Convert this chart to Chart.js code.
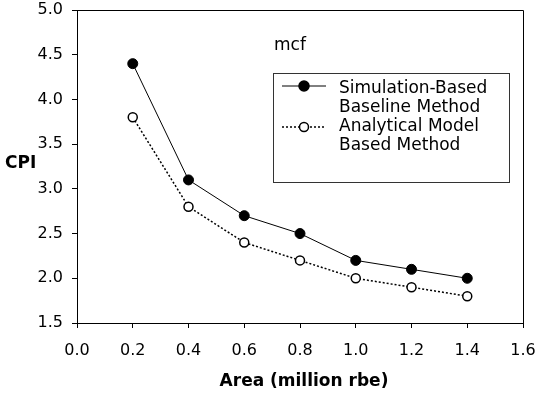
<!DOCTYPE html>
<html>
<head>
<meta charset="utf-8">
<script src="https://cdn.jsdelivr.net/npm/chart.js@4/dist/chart.umd.min.js"></script>
<style>
  html, body { margin:0; padding:0; background:#fff; }
  #wrap { width:537px; height:400px; }
</style>
</head>
<body>
<div id="wrap"><canvas id="cpiChart" width="537" height="400"></canvas></div>
<script>
const areaValues   = [0.2, 0.4, 0.6, 0.8, 1.0, 1.2, 1.4];
const simBaseline  = [4.4, 3.1, 2.7, 2.5, 2.2, 2.1, 2.0];
const analytical   = [3.8, 2.8, 2.4, 2.2, 2.0, 1.9, 1.8];
const seriesNames  = [['Simulation-Based', 'Baseline Method'], ['Analytical Model', 'Based Method']];
const benchName    = 'mcf';
const xTitle       = 'Area (million rbe)';
const yTitle       = 'CPI';

const FONT = '"DejaVu Sans", sans-serif';

function toPoints(xs, ys){ return xs.map((x,i)=>({x:x, y:ys[i]})); }

// frame, legend box, axis titles
const decorPlugin = {
  id: 'decor',
  afterDraw(chart){
    const {ctx, chartArea:a} = chart;
    ctx.save();
    ctx.strokeStyle = '#000';
    ctx.lineWidth = 1;
    ctx.beginPath();
    ctx.moveTo(a.left, a.top + 0.5);
    ctx.lineTo(a.right + 0.5, a.top + 0.5);
    ctx.lineTo(a.right + 0.5, a.bottom);
    ctx.stroke();

    ctx.fillStyle = '#000';
    ctx.textBaseline = 'middle';
    ctx.font = '17px ' + FONT;
    ctx.textAlign = 'left';
    ctx.fillText(benchName, 274, 46);

    // legend box
    ctx.strokeStyle = '#333';
    ctx.strokeRect(273.5, 73.5, 236, 109);

    const rows = [
      { y: 86, dash: [], fill: '#000', r: 5, lines: seriesNames[0], ty: [89, 108] },
      { y: 127, dash: [2, 2], fill: '#fff', r: 4.5, lines: seriesNames[1], ty: [127, 146] }
    ];
    rows.forEach(r => {
      ctx.strokeStyle = '#000';
      ctx.lineWidth = r.dash.length ? 1.5 : 1;
      ctx.setLineDash(r.dash);
      ctx.beginPath();
      ctx.moveTo(282, r.y);
      ctx.lineTo(326, r.y);
      ctx.stroke();
      ctx.setLineDash([]);
      ctx.beginPath();
      ctx.arc(304, r.y, r.r, 0, Math.PI * 2);
      ctx.fillStyle = r.fill;
      ctx.fill();
      ctx.lineWidth = 1.5;
      ctx.stroke();
      ctx.fillStyle = '#000';
      ctx.font = '17px ' + FONT;
      ctx.fillText(r.lines[0], 339, r.ty[0]);
      ctx.fillText(r.lines[1], 339, r.ty[1]);
    });

    ctx.font = 'bold 17px ' + FONT;
    ctx.textAlign = 'left';
    ctx.fillText(yTitle, 5, 164);
    ctx.textAlign = 'center';
    ctx.fillText(xTitle, (a.left + a.right) / 2 + 4, 382);
    ctx.restore();
  }
};

const ctx = document.getElementById('cpiChart').getContext('2d');
const cpiChart = new Chart(ctx, {
  type: 'line',
  data: {
    datasets: [{
      label: seriesNames[0].join(' '),
      data: toPoints(areaValues, simBaseline),
      borderColor: '#000',
      borderWidth: 1,
      pointRadius: 5,
      pointBackgroundColor: '#000',
      pointBorderColor: '#000',
      pointBorderWidth: 1,
      fill: false,
      tension: 0
    }, {
      label: seriesNames[1].join(' '),
      data: toPoints(areaValues, analytical),
      borderColor: '#000',
      borderWidth: 1.5,
      borderDash: [2, 2],
      pointRadius: 4.5,
      pointBackgroundColor: '#fff',
      pointBorderColor: '#000',
      pointBorderWidth: 1.5,
      fill: false,
      tension: 0
    }]
  },
  options: {
    responsive: false,
    animation: false,
    layout: { padding: { top: 10, right: 14, left: 0, bottom: 0 } },
    plugins: { legend: { display: false }, tooltip: { enabled: false } },
    scales: {
      x: {
        type: 'linear',
        min: 0, max: 1.6,
        afterFit: s => { s.height = 77; s.paddingLeft = 0; s.paddingRight = 0; },
        ticks: {
          stepSize: 0.2,
          color: '#000',
          font: { family: FONT, size: 16 },
          padding: 13,
          maxRotation: 0,
          callback: v => v.toFixed(1)
        },
        grid: { drawOnChartArea: false, tickLength: 5, color: '#000' },
        border: { color: '#000', width: 1 }
      },
      y: {
        min: 1.5, max: 5,
        afterFit: s => { s.width = 77; s.paddingTop = 0; s.paddingBottom = 0; },
        ticks: {
          stepSize: 0.5,
          color: '#000',
          font: { family: FONT, size: 16 },
          padding: 9,
          callback: v => v.toFixed(1)
        },
        grid: { drawOnChartArea: false, tickLength: 5, color: '#000' },
        border: { color: '#000', width: 1 }
      }
    }
  },
  plugins: [decorPlugin]
});
</script>
</body>
</html>
